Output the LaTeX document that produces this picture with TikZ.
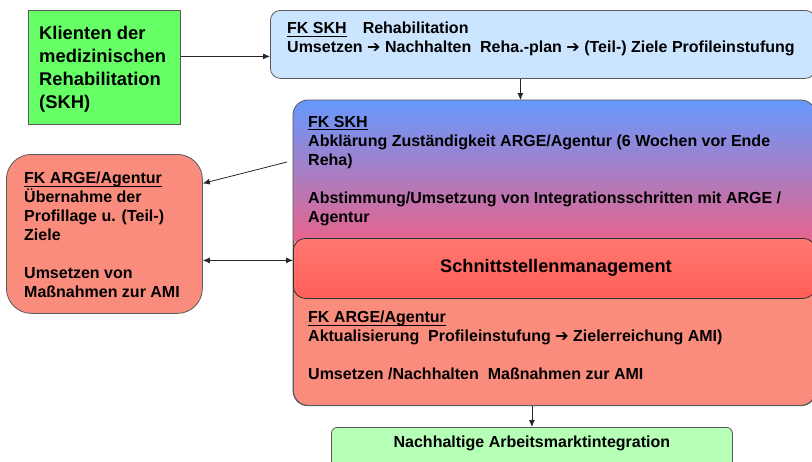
\documentclass[tikz,border=0pt]{standalone}
\usepackage{amsmath}
\usepackage{fontspec}
\setmainfont{Liberation Sans}
\newfontfamily\pfeilfont{DejaVu Sans}
\usetikzlibrary{arrows.meta}
\definecolor{gruen}{RGB}{102,255,102}
\definecolor{hellgruen}{RGB}{182,255,182}
\definecolor{hellblau}{RGB}{204,229,255}
\definecolor{blau}{RGB}{102,153,255}
\definecolor{rosa}{RGB}{230,100,140}
\definecolor{lachs}{RGB}{250,140,125}
\definecolor{rot}{RGB}{255,95,88}
\newcommand{\pf}{{\pfeilfont\char"2794}}
\newcommand{\ul}[1]{\underline{\smash[b]{#1}}}

\begin{document}
\begin{tikzpicture}[x=1pt,y=-1pt]
\tikzstyle{box}=[draw=black!65,line width=0.8pt,anchor=north west,inner sep=0pt];
\tikzstyle{txt}=[anchor=north west,align=left,inner sep=0pt,font=\fontsize{16}{19}\selectfont\bfseries];
\tikzstyle{pfeil}=[-{Latex[length=7pt,width=6pt]},line width=0.8pt,black!85];
\useasboundingbox (0,0) rectangle (812,461);

% Klienten
\node (kl) [box,fill=gruen,minimum width=152pt,minimum height=114pt] at (28,10) {};
\node [txt,font=\fontsize{18.4}{23}\selectfont\bfseries] at (39,26) {Klienten der\\medizinischen\\Rehabilitation\\(SKH)};

% Rehabilitation
\node (reha) [box,fill=hellblau,rounded corners=10pt,minimum width=545pt,minimum height=68pt] at (270,10) {};
\node [txt] at (287,22) {\ul{FK SKH}\quad Rehabilitation\\Umsetzen \pf{} Nachhalten\ \ Reha.-plan \pf{} (Teil-) Ziele Profileinstufung};

% gemeinsamer Block
\node (ges) [box,fill=lachs,rounded corners=15pt,minimum width=522pt,minimum height=305pt] at (293,100) {};
\begin{scope}
\clip [rounded corners=15pt] (ges.north west) rectangle (ges.south east);
\shade [top color=blau,bottom color=rosa] (ges.north west) rectangle (815,240);
\end{scope}
\draw [black!65,line width=0.8pt,rounded corners=15pt] (ges.north west) rectangle (ges.south east);
\node [txt] at (308,116) {\ul{FK SKH}\\Abklärung Zuständigkeit ARGE/Agentur (6 Wochen vor Ende\\Reha)\\[19pt]Abstimmung/Umsetzung von Integrationsschritten mit ARGE /\\Agentur};
\node (sm) [box,draw=black!80,rounded corners=12pt,top color=rot!85!white,bottom color=rot,minimum width=522pt,minimum height=60pt] at (293,238) {};
\node [font=\fontsize{18.2}{22}\selectfont\bfseries] at (556,268) {Schnittstellenmanagement};
\node [txt] at (308,311) {\ul{FK ARGE/Agentur}\\Aktualisierung\ \ Profileinstufung \pf{} Zielerreichung AMI)\\[19pt]Umsetzen /Nachhalten\ \ Maßnahmen zur AMI};

% ARGE/Agentur links
\node (ag) [box,fill=lachs,rounded corners=25pt,minimum width=196pt,minimum height=159pt] at (6,154) {};
\node [txt] at (24,172) {\ul{FK ARGE/Agentur}\\Übernahme der\\Profillage u. (Teil-)\\Ziele\\[19pt]Umsetzen von\\Maßnahmen zur AMI};

% Ziel
\node (ziel) [box,fill=hellgruen,rounded corners=6pt,minimum width=401pt,minimum height=45pt] at (331,427) {};
\node [font=\fontsize{16}{19}\selectfont\bfseries] at (ziel.center |- 0,443) {Nachhaltige Arbeitsmarktintegration};

% Verbindungen
\coordinate (ab) at (287,162);
\draw [pfeil] ([yshift=11pt]kl.east) -- ([yshift=11pt]kl.east -| reha.west);
\draw [pfeil] ([xshift=-22.5pt]reha.south) -- ([xshift=-22.5pt]reha.south |- ges.north);
\draw [pfeil] (ab) -- ([yshift=50.5pt]ag.east);
\draw [pfeil,{Latex[length=7pt,width=6pt]}-{Latex[length=7pt,width=6pt]}] ([yshift=-26.5pt]ag.east) -- ([yshift=-26.5pt]ag.east -| sm.west);
\draw [pfeil] (ges.south -| ziel.north) -- (ziel.north);
\end{tikzpicture}
\end{document}
